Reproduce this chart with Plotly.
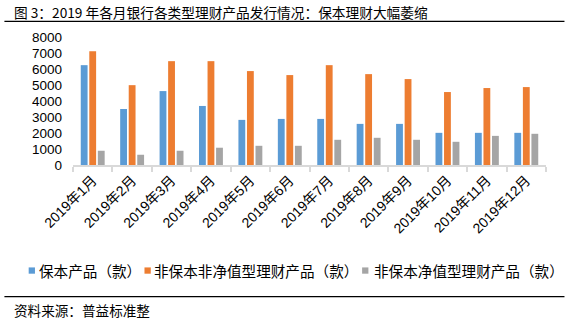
import plotly.graph_objects as go

months = ["2019年1月", "2019年2月", "2019年3月", "2019年4月", "2019年5月", "2019年6月",
          "2019年7月", "2019年8月", "2019年9月", "2019年10月", "2019年11月", "2019年12月"]
series_names = ["保本产品（款）", "非保本非净值型理财产品（款）", "非保本净值型理财产品（款）"]
baoben = [6240, 3500, 4620, 3690, 2820, 2880, 2880, 2570, 2570, 2010, 2010, 2010]
fei_baoben_fei_jingzhi = [7110, 4990, 6490, 6490, 5870, 5620, 6240, 5680, 5370, 4560, 4810, 4870]
fei_baoben_jingzhi = [890, 640, 890, 1080, 1200, 1200, 1575, 1700, 1575, 1450, 1820, 1950]
y_ticks = [0, 1000, 2000, 3000, 4000, 5000, 6000, 7000, 8000]

title_text = "图 3：2019 年各月银行各类型理财产品发行情况：保本理财大幅萎缩"
source_text = "资料来源：普益标准整"

colors = ["#5B9BD5", "#ED7D31", "#A5A5A5"]
values = [baoben, fei_baoben_fei_jingzhi, fei_baoben_jingzhi]

W, H = 565, 328
ML, MR, MT, MB = 72.7, 18.5, 36.7, 162.7
PW, PH = W - ML - MR, H - MT - MB

def px(x):
    return (x - ML) / PW

def py(y):
    return (H - MB - y) / PH

fig = go.Figure()
for name, vals, c in zip(series_names, values, colors):
    fig.add_trace(go.Bar(x=months, y=vals, name=name, marker_color=c,
                         marker_line_width=0, showlegend=False))

cjk = "Noto Sans CJK SC"
latin = "Liberation Sans, Arial, Noto Sans CJK SC"

shapes = [
    dict(type="line", xref="paper", yref="paper", x0=px(4), x1=px(565), y0=py(21), y1=py(21),
         line=dict(color="black", width=1.4)),
    dict(type="line", xref="paper", yref="paper", x0=px(4), x1=px(565), y0=py(297.5), y1=py(297.5),
         line=dict(color="black", width=1.4)),
]
annotations = [
    dict(text=title_text, xref="paper", yref="paper", x=px(12), y=py(11.7), xanchor="left",
         yanchor="middle", showarrow=False, font=dict(family=cjk, size=13.7, color="black")),
    dict(text=source_text, xref="paper", yref="paper", x=px(12), y=py(311), xanchor="left",
         yanchor="middle", showarrow=False, font=dict(family=cjk, size=13.6, color="black")),
]
legend_marker_x = [28.3, 144.3, 362.3]
legend_text_x = [37.5, 153.3, 373.3]
for name, c, mx, tx in zip(series_names, colors, legend_marker_x, legend_text_x):
    shapes.append(dict(type="rect", xref="paper", yref="paper", x0=px(mx), x1=px(mx + 6.3),
                       y0=py(274.5), y1=py(268.2), fillcolor=c, line=dict(width=0)))
    annotations.append(dict(text=name, xref="paper", yref="paper", x=px(tx), y=py(271.3),
                            xanchor="left", yanchor="middle", showarrow=False, borderpad=0,
                            font=dict(family=cjk, size=14.6, color="black")))

fig.update_layout(
    width=W, height=H,
    margin=dict(l=ML, r=MR, t=MT, b=MB, pad=0),
    paper_bgcolor="white", plot_bgcolor="white",
    barmode="group", bargap=0.35, bargroupgap=0.2,
    showlegend=False,
    shapes=shapes, annotations=annotations,
    xaxis=dict(showline=True, linecolor="#D9D9D9", linewidth=1.5, ticks="outside",
               tickson="boundaries", ticklen=5, tickwidth=1.5, tickcolor="#D9D9D9",
               tickangle=-45, tickfont=dict(family=latin, size=14, color="black"),
               showgrid=False, zeroline=False),
    yaxis=dict(range=[0, 8000], tickvals=y_ticks, showgrid=False, zeroline=False,
               showline=False, ticklabelstandoff=10,
               tickfont=dict(family=latin, size=13.5, color="black")),
)

fig.write_html("out.html")
